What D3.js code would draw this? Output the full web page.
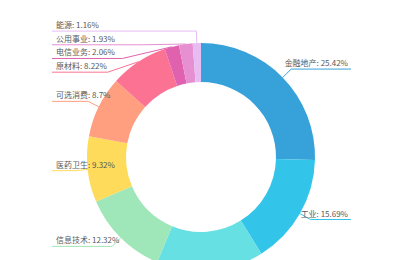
<!DOCTYPE html>
<html>
<head>
<meta charset="utf-8">
<script src="https://cdn.jsdelivr.net/npm/d3@7"></script>
<style>
	html, body { margin: 0; padding: 0; background: #fff; }
	svg { display: block; overflow: hidden; }
</style>
</head>
<body>
<svg id="svg_pie"></svg>
<script>
// sectors, clockwise from 12 o'clock
var arr_names = ["金融地产", "工业", "主要消费", "信息技术", "医药卫生", "可选消费", "原材料", "电信业务", "公用事业", "能源"];
var arr_values = [25.42, 15.69, 15.18, 12.32, 9.32, 8.7, 8.22, 2.06, 1.93, 1.16];
var arr_colors = ["#37a2da", "#32c5e9", "#67e0e3", "#9fe6b8", "#ffdb5c", "#ff9f7f", "#fb7293", "#e062ae", "#e690d1", "#e7bcf3"];

var width = 400,
	height = 260;

var cx = 201,
	cy = 157,
	r_outer = 114,
	r_inner = 75;

var line_len = 12;       // first leg of the label line
var edge_left = 52,
	edge_right = 351;
var label_gap = 13.7;    // min vertical distance between stacked labels
var label_min_y = 31;

var svg = d3.select("svg#svg_pie")
	.attr("width", width)
	.attr("height", height);

var g = svg.append("g")
	.attr("transform", "translate(" + cx + "," + cy + ")");

var data = arr_names.map(function(d, i) {
	return {name: d, value: arr_values[i], color: arr_colors[i]};
});

var pie = d3.pie()
	.sort(null)
	.value(function(d) { return d.value; });

var arc = d3.arc()
	.innerRadius(r_inner)
	.outerRadius(r_outer);

var arcs = pie(data);

g.selectAll("path.slice")
	.data(arcs)
	.enter().append("path")
	.attr("class", "slice")
	.attr("fill", function(d) { return d.data.color; })
	.attr("d", arc);

// ====================================================
// label layout: point on the ring, elbow, then a flat leg to the edge
var r_elbow = r_outer + line_len;
var labels = arcs.map(function(d) {
	var a = (d.startAngle + d.endAngle) / 2;
	return {
		d: d,
		a: a,
		px: Math.sin(a) * r_outer,
		py: -Math.cos(a) * r_outer,
		ey: -Math.cos(a) * r_elbow,
		side: Math.sin(a) >= 0 ? 1 : -1
	};
});

[-1, 1].forEach(function(side) {
	var list = labels.filter(function(l) { return l.side == side; })
		.sort(function(a, b) { return a.ey - b.ey; });
	var prev = null;
	list.forEach(function(l) {
		var y = l.ey;
		if (prev === null) y = Math.max(y, label_min_y - cy);
		else y = Math.max(y, prev + label_gap);
		l.ey = y;
		prev = y;
	});
	// elbow sits on the circle at the shifted height
	list.forEach(function(l) {
		var dy = Math.abs(l.ey);
		var dx = dy < r_elbow ? Math.sqrt(r_elbow * r_elbow - dy * dy) : 0;
		l.ex = side * dx;
	});
});

// the bottom label falls below the frame, as in the original
labels = labels.filter(function(l) { return l.ey + cy < height; });

var gl = g.selectAll("g.label")
	.data(labels)
	.enter().append("g")
	.attr("class", "label");

gl.append("polyline")
	.attr("fill", "none")
	.attr("stroke", function(l) { return l.d.data.color; })
	.attr("stroke-width", 1)
	.attr("points", function(l) {
		var end_x = (l.side > 0 ? edge_right : edge_left) - cx;
		return [[l.px, l.py], [l.ex, l.ey], [end_x, l.ey]].join(" ");
	});

gl.append("text")
	.attr("x", function(l) {
		return l.side > 0 ? edge_right - 3 - cx : edge_left + 4 - cx;
	})
	.attr("y", function(l) { return l.ey - 3; })
	.attr("text-anchor", function(l) { return l.side > 0 ? "end" : "start"; })
	.attr("font-family", "'Noto Sans CJK SC', 'Noto Sans', sans-serif")
	.attr("font-size", 8)
	.attr("fill", "#595959")
	.text(function(l) { return l.d.data.name + ": " + l.d.data.value + "%"; });
</script>
</body>
</html>
